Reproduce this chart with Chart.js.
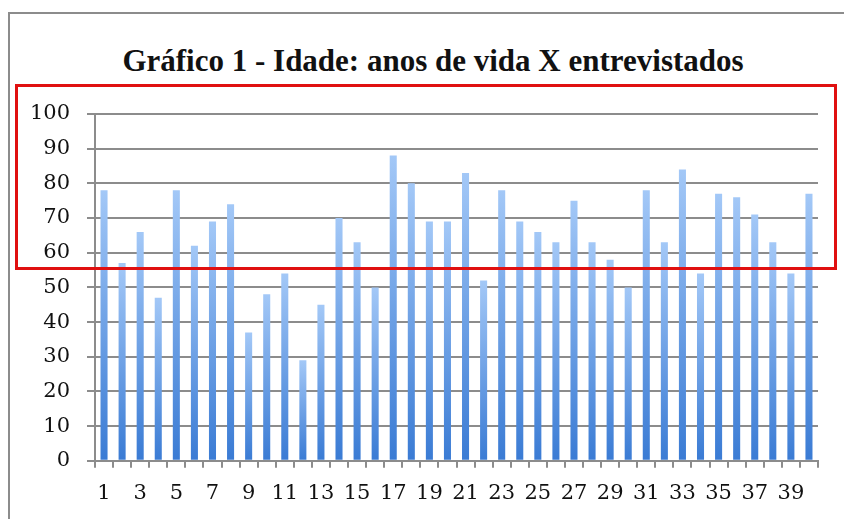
<!DOCTYPE html>
<html>
<head>
<meta charset="utf-8">
<script src="https://cdn.jsdelivr.net/npm/chart.js@4"></script>
<style>
  html, body { margin: 0; padding: 0; background: #fff; }
  #wrap { position: relative; width: 844px; height: 519px; overflow: hidden; }
  #frame { position: absolute; left: 8px; top: 12px; width: 900px; height: 600px; border: 2px solid #8c8c8c; box-sizing: border-box; }
  #mark { position: absolute; left: 15px; top: 84px; width: 822px; height: 186px; border: 3px solid #e01010; box-sizing: border-box; }
  #title {
    position: absolute; left: 0; top: 43px; width: 866px; text-align: center;
    font: bold 31px/36px "Liberation Serif", serif; color: #111;
  }
  canvas { position: absolute; left: 0; top: 0; }
</style>
</head>
<body>
<div id="wrap">
  <div id="frame"></div>
  <div id="title">Gráfico 1 - Idade: anos de vida X entrevistados</div>
  <canvas id="ageChart" width="844" height="519"></canvas>
  <div id="mark"></div>
</div>
<script>
// interviewees 1..40
const entrevistados = [];
for (let i = 1; i <= 40; i++) entrevistados.push(String(i));

// years of life
const idades = [
  78, 57, 66, 47, 78, 62, 69, 74, 37, 48,
  54, 29, 45, 70, 63, 50, 88, 80, 69, 69,
  83, 52, 78, 69, 66, 63, 75, 63, 58, 50,
  78, 63, 84, 54, 77, 76, 71, 63, 54, 77,
];

const yTicks = [0, 10, 20, 30, 40, 50, 60, 70, 80, 90, 100];

const gridGrey = "#8c8c8c";

// each bar gets its own light-top / dark-bottom gradient
function barGradient(context) {
  const chart = context.chart;
  const { ctx, chartArea, scales } = chart;
  if (!chartArea || context.raw === undefined) return "#6fa3e8";
  const top = scales.y.getPixelForValue(context.raw);
  const bottom = scales.y.getPixelForValue(0);
  const g = ctx.createLinearGradient(0, top, 0, bottom);
  g.addColorStop(0, "#a3c8f7");
  g.addColorStop(1, "#3a7bd4");
  return g;
}

const ctx = document.getElementById("ageChart").getContext("2d");

new Chart(ctx, {
  type: "bar",
  data: {
    labels: entrevistados,
    datasets: [
      {
        label: "Idade",
        data: idades,
        backgroundColor: barGradient,
        borderWidth: 0,
        barPercentage: 0.78,
        categoryPercentage: 0.5,
      },
    ],
  },
  options: {
    responsive: false,
    animation: false,
    layout: {
      padding: { left: 20, right: 26, top: 114, bottom: 0 },
    },
    plugins: {
      legend: { display: false },
      tooltip: { enabled: false },
      title: { display: false },
    },
    scales: {
      x: {
        grid: {
          drawOnChartArea: false,
          drawTicks: true,
          tickLength: 7,
          color: gridGrey,
          lineWidth: 2,
          offset: true,
        },
        border: { color: gridGrey, width: 2 },
        ticks: {
          autoSkip: false,
          maxRotation: 0,
          minRotation: 0,
          padding: 13,
          color: "#111",
          font: { family: "DejaVu Serif", size: 21 },
          callback: function (value, index) {
            return index % 2 === 0 ? entrevistados[index] : "";
          },
        },
      },
      y: {
        min: 0,
        max: 100,
        afterBuildTicks: function (scale) {
          scale.ticks = yTicks.map((v) => ({ value: v }));
        },
        afterFit: function (scale) {
          scale.width = 75;
        },
        grid: {
          color: gridGrey,
          lineWidth: 2,
          tickLength: 8,
        },
        border: { color: gridGrey, width: 2 },
        ticks: {
          padding: 17,
          color: "#111",
          font: { family: "DejaVu Serif", size: 21 },
        },
      },
    },
  },
});
</script>
</body>
</html>
